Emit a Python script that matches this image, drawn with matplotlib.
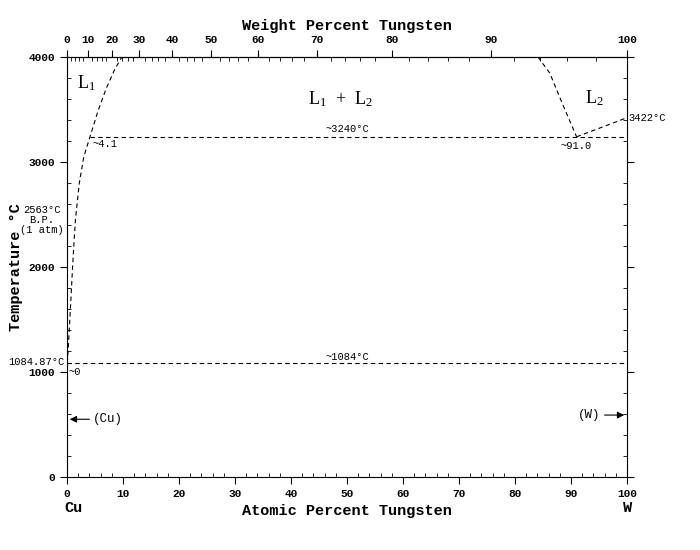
import numpy as np
import matplotlib
matplotlib.use('Agg')
import matplotlib.pyplot as plt

# liquidus branches (atomic % W, temperature in C)
l1_x = [0.05, 0.3, 0.7, 1.1, 1.5, 2.2, 3.0, 4.1, 5.5, 7.0, 8.5, 9.8]
l1_t = [1085, 1300, 1700, 2100, 2450, 2800, 3050, 3240, 3480, 3700, 3880, 4000]
l2_x = [84.1, 86.2, 88.5, 91.0]
l2_t = [4000, 3848, 3550, 3240]
w_x = [91.0, 100]
w_t = [3240, 3422]
mono_t = 3240
eut_t = 1084.87
wt_ticks = [0, 10, 20, 30, 40, 50, 60, 70, 80, 90, 100]

M_CU, M_W = 63.546, 183.84


def wt_to_at(w):
    w = np.asarray(w, dtype=float)
    a = w / M_W
    b = (100 - w) / M_CU
    return 100 * a / (a + b)


plt.rcParams['font.family'] = ['Liberation Mono', 'DejaVu Sans']
fig = plt.figure(figsize=(7, 5.5), dpi=100)
ax = fig.add_axes([67/700, 73/550, 560/700, 420/550])
ax.set_xlim(0, 100)
ax.set_ylim(0, 4000)

dash = dict(color='k', lw=0.8, ls=(0, (4, 3)))
ax.plot(l1_x, l1_t, **dash)
ax.plot(l2_x, l2_t, **dash)
ax.plot(w_x, w_t, **dash)
ax.plot([4.1, 100], [mono_t, mono_t], **dash)
ax.plot([0, 100], [eut_t, eut_t], **dash)

ax.set_xticks(range(0, 101, 10))
ax.set_xticks(range(0, 101, 2), minor=True)
ax.set_yticks(range(0, 4001, 1000))
ax.set_yticks(range(0, 4001, 200), minor=True)
ax.tick_params(which='major', direction='out', length=5, labelsize=8)
ax.tick_params(which='minor', direction='in', length=3)
ax.tick_params(axis='y', right=True, which='both')

top = ax.secondary_xaxis('top', functions=(lambda a: a, lambda a: a))
top.set_xticks(wt_to_at(wt_ticks))
top.set_xticklabels([str(w) for w in wt_ticks])
top.set_xticks(wt_to_at(np.arange(0, 101, 2)), minor=True)
top.tick_params(which='major', direction='out', length=5, labelsize=8)
top.tick_params(which='minor', direction='in', length=3)
top.set_xlabel('Weight Percent Tungsten', fontsize=11, fontweight='bold')

for lab in ax.get_xticklabels() + ax.get_yticklabels() + top.get_xticklabels():
    lab.set_fontweight('bold')

ax.set_xlabel('Atomic Percent Tungsten', fontsize=11, fontweight='bold')
ax.set_ylabel('Temperature \u00b0C', fontsize=11, fontweight='bold')

serif = ['Liberation Serif', 'DejaVu Serif']
ax.text(1.8, 3700, '$\\mathregular{L_1}$', fontsize=13, family=serif)
ax.text(43, 3550, '$\\mathregular{L_1\\ +\\ L_2}$', fontsize=13, family=serif)
ax.text(92.5, 3560, '$\\mathregular{L_2}$', fontsize=13, family=serif)
ax.text(4.5, 3170, '~4.1', fontsize=7.5, va='center')
ax.text(91, 3150, '~91.0', fontsize=7.5, ha='center', va='center')
ax.text(50, 3290, '~3240\u00b0C', fontsize=7.5, ha='center')
ax.text(50, 1110, '~1084\u00b0C', fontsize=7.5, ha='center')
ax.text(100.3, 3422, '3422\u00b0C', fontsize=7.5, va='center', clip_on=False)
ax.text(0.3, 1000, '~0', fontsize=7.5, va='center')
ax.text(-0.4, eut_t + 10, '1084.87\u00b0C', fontsize=7.5, ha='right',
        va='center', clip_on=False)
ax.text(-4.5, 2450, '2563\u00b0C\nB.P.\n(1 atm)', fontsize=7.5, ha='center',
        va='center', clip_on=False, linespacing=1.0)
ax.text(-0.5, -300, 'Cu', fontsize=11, fontweight='bold', va='center')
ax.text(100, -300, 'W', fontsize=11, fontweight='bold', ha='center', va='center')

ax.annotate('', xy=(0, 550), xytext=(4.5, 550),
            arrowprops=dict(arrowstyle='-|>', color='k', lw=0.8))
ax.text(4.6, 550, '(Cu)', fontsize=9, va='center')
ax.annotate('', xy=(100, 590), xytext=(95.5, 590),
            arrowprops=dict(arrowstyle='-|>', color='k', lw=0.8))
ax.text(95.3, 590, '(W)', fontsize=9, va='center', ha='right')

fig.savefig('out.png', dpi=100)
